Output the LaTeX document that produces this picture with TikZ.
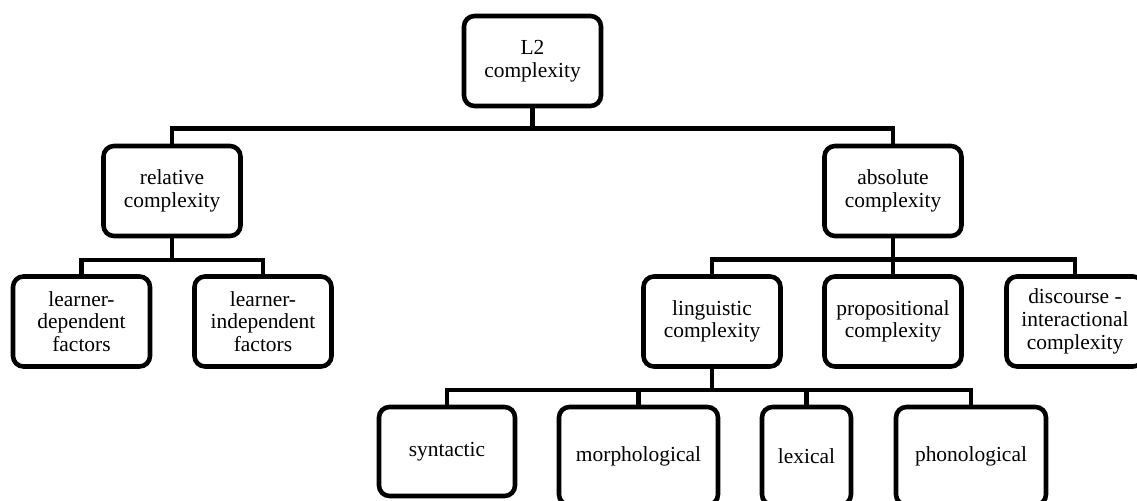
\documentclass[tikz,border=0pt]{standalone}
\usepackage{fontspec}
\setmainfont{Liberation Serif}
\usepackage{tikz}
\usetikzlibrary{calc}

\tikzset{
  box/.style={draw, line width=2.6pt, rounded corners=6pt, align=center,
    minimum width=2.74cm, minimum height=1.8cm, inner sep=0pt,
    font=\fontsize{12.2}{12.9}\selectfont},
  link/.style={line width=2.6pt},
}

\begin{document}
\begin{tikzpicture}
    \clip (0,0) rectangle (22.74,-10.02);
    % top
    \node[box] (l2) at (10.65,-1.22) {L2\\complexity};
    \node[box] (rel) at (3.44,-3.82) {relative\\complexity};
    \node[box] (abs) at (17.86,-3.82) {absolute\\complexity};
    % second level
    \node[box] (dep) at (1.63,-6.43) {learner-\\dependent\\factors};
    \node[box] (indep) at (5.26,-6.43) {learner-\\independent\\factors};
    \node[box] (ling) at (14.24,-6.43) {linguistic\\complexity};
    \node[box] (prop) at (17.86,-6.43) {propositional\\complexity};
    \node[box] (disc) at (21.5,-6.43) {discourse -\\interactional\\complexity};
    % bottom row
    \node[box, minimum width=2.72cm, minimum height=1.78cm] (syn) at (8.94,-9.03) {syntactic};
    \node[box, minimum width=3.18cm, minimum height=1.96cm] (mor) at (12.77,-9.12) {morphological};
    \node[box, minimum width=1.78cm, minimum height=1.96cm] (lex) at (16.13,-9.12) {lexical};
    \node[box, minimum width=3.0cm, minimum height=1.96cm] (pho) at (19.42,-9.12) {phonological};
    % connectors
    \draw[link] (l2.south) -- ++(0,-0.4) -| (rel.north);
    \draw[link] (l2.south) -- ++(0,-0.4) -| (abs.north);
    \draw[link] (rel.south) -- ++(0,-0.43) -| (dep.north);
    \draw[link] (rel.south) -- ++(0,-0.43) -| (indep.north);
    \draw[link] (abs.south) -- ++(0,-0.42) -| (ling.north);
    \draw[link] (abs.south) -- (prop.north);
    \draw[link] (abs.south) -- ++(0,-0.42) -| (disc.north);
    \draw[link] (ling.south) -- ++(0,-0.42) -| (syn.north);
    \draw[link] (ling.south) -- ++(0,-0.42) -| (mor.north);
    \draw[link] (ling.south) -- ++(0,-0.42) -| (lex.north);
    \draw[link] (ling.south) -- ++(0,-0.42) -| (pho.north);
\end{tikzpicture}
\end{document}
